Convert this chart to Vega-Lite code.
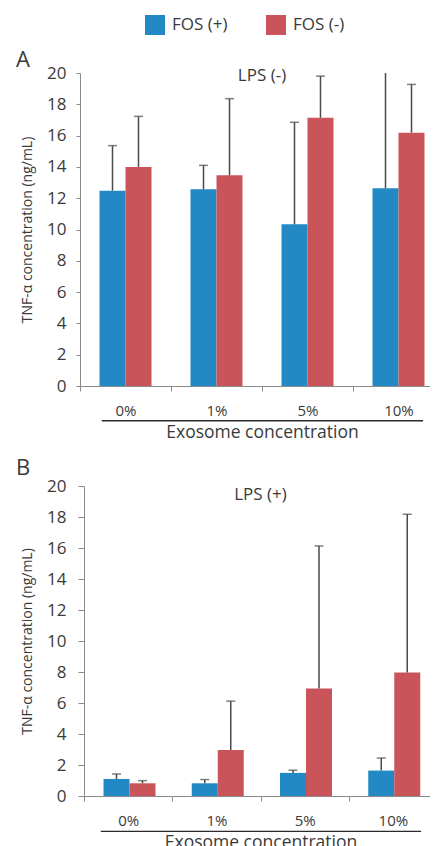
{
  "$schema": "https://vega.github.io/schema/vega-lite/v6.json",
  "padding": {"left": 16, "top": 15, "right": -15, "bottom": -4},
  "config": {
    "font": "Open Sans",
    "view": {"stroke": null},
    "axis": {
      "domainColor": "#8a8a8a",
      "tickColor": "#8a8a8a",
      "labelColor": "#3a3a3a",
      "titleColor": "#3a3a3a",
      "labelFontSize": 15,
      "titleFontWeight": "normal",
      "grid": false
    },
    "axisY": {
      "values": [0, 2, 4, 6, 8, 10, 12, 14, 16, 18, 20],
      "labelOverlap": false,
      "labelFontSize": 17,
      "titleFontSize": 14,
      "titlePadding": 12
    },
    "title": {"color": "#3a3a3a", "fontWeight": "normal", "fontSize": 22}
  },
  "datasets": {
    "bars": [
      {"panel": "A", "conc": "0%", "fos": "FOS (+)", "value": 12.48, "upper": 15.36},
      {"panel": "A", "conc": "0%", "fos": "FOS (-)", "value": 14.0, "upper": 17.23},
      {"panel": "A", "conc": "1%", "fos": "FOS (+)", "value": 12.57, "upper": 14.1},
      {"panel": "A", "conc": "1%", "fos": "FOS (-)", "value": 13.46, "upper": 18.36},
      {"panel": "A", "conc": "5%", "fos": "FOS (+)", "value": 10.33, "upper": 16.85},
      {"panel": "A", "conc": "5%", "fos": "FOS (-)", "value": 17.14, "upper": 19.8},
      {"panel": "A", "conc": "10%", "fos": "FOS (+)", "value": 12.63, "upper": 22.5},
      {"panel": "A", "conc": "10%", "fos": "FOS (-)", "value": 16.19, "upper": 19.27},
      {"panel": "B", "conc": "0%", "fos": "FOS (+)", "value": 1.1, "upper": 1.42},
      {"panel": "B", "conc": "0%", "fos": "FOS (-)", "value": 0.82, "upper": 0.99},
      {"panel": "B", "conc": "1%", "fos": "FOS (+)", "value": 0.82, "upper": 1.06},
      {"panel": "B", "conc": "1%", "fos": "FOS (-)", "value": 2.97, "upper": 6.12},
      {"panel": "B", "conc": "5%", "fos": "FOS (+)", "value": 1.49, "upper": 1.66},
      {"panel": "B", "conc": "5%", "fos": "FOS (-)", "value": 6.94, "upper": 16.13},
      {"panel": "B", "conc": "10%", "fos": "FOS (+)", "value": 1.64, "upper": 2.45},
      {"panel": "B", "conc": "10%", "fos": "FOS (-)", "value": 7.97, "upper": 18.18}
    ],
    "labels": [
      {"panel": "A", "text": "LPS (-)", "conc": "5%", "y": 19.78, "line": -2.22},
      {"panel": "B", "text": "LPS (+)", "conc": "5%", "y": 19.42, "line": -2.28}
    ]
  },
  "spacing": 16,
  "vconcat": [
    {
      "width": 364,
      "height": 313,
      "title": {"text": "A", "anchor": "start", "frame": "group", "dx": -64, "offset": -8},
      "encoding": {
        "y": {"type": "quantitative", "scale": {"domain": [0, 20], "nice": false},
          "axis": {"title": "TNF-α concentration (ng/mL)", "values": [0, 2, 4, 6, 8, 10, 12, 14, 16, 18, 20], "labelOverlap": false, "tickSize": 4, "labelPadding": 10}}
      },
      "layer": [
        {
          "data": {"name": "bars"},
          "transform": [{"filter": "datum.panel == 'A'"}],
          "mark": {"type": "bar"},
          "encoding": {
            "x": {"field": "conc", "type": "nominal",
              "scale": {"domain": ["0%", "1%", "5%", "10%"], "paddingInner": 0, "paddingOuter": 0},
              "axis": {"title": "Exosome concentration", "titleFontSize": 17.5, "labelAngle": 0, "tickBand": "extent", "tickSize": 5, "labelPadding": 19, "labelBaseline": "middle", "titlePadding": 5}},
            "xOffset": {"field": "fos", "type": "nominal", "sort": ["FOS (+)", "FOS (-)"], "scale": {"paddingInner": 0, "paddingOuter": 0.75}},
            "y": {"field": "value"},
            "color": {"field": "fos", "type": "nominal", "scale": {"domain": ["FOS (+)", "FOS (-)"], "range": ["#2389c4", "#c9545a"]},
              "legend": {"title": null, "orient": "none", "direction": "horizontal", "legendX": 65, "legendY": -58, "symbolType": "square", "symbolSize": 400, "symbolStrokeWidth": 0, "labelFontSize": 17, "labelColor": "#3a3a3a", "labelOffset": 7, "columnPadding": 38}}
          }
        },
        {
          "data": {"name": "bars"},
          "transform": [{"filter": "datum.panel == 'A'"}],
          "mark": {"type": "rule", "clip": true, "color": "#4a4a4a", "strokeWidth": 1.5},
          "encoding": {
            "x": {"field": "conc", "type": "nominal"},
            "xOffset": {"field": "fos", "type": "nominal", "sort": ["FOS (+)", "FOS (-)"]},
            "y": {"field": "value"},
            "y2": {"field": "upper"}
          }
        },
        {
          "data": {"name": "bars"},
          "transform": [{"filter": "datum.panel == 'A'"}],
          "mark": {"type": "tick", "clip": true, "color": "#4a4a4a", "thickness": 1.5, "size": 9},
          "encoding": {
            "x": {"field": "conc", "type": "nominal"},
            "xOffset": {"field": "fos", "type": "nominal", "sort": ["FOS (+)", "FOS (-)"]},
            "y": {"field": "upper"}
          }
        },
        {
          "data": {"name": "labels"},
          "transform": [{"filter": "datum.panel == 'A'"}],
          "mark": {"type": "text", "fontSize": 17, "color": "#3a3a3a", "baseline": "middle"},
          "encoding": {
            "x": {"field": "conc", "type": "nominal", "bandPosition": 0},
            "y": {"field": "y"},
            "text": {"field": "text"}
          }
        },
        {
          "data": {"name": "labels"},
          "transform": [{"filter": "datum.panel == 'A'"}],
          "mark": {"type": "rule", "color": "#2a2a2a", "strokeWidth": 1.3},
          "encoding": {
            "x": {"datum": "0%", "bandPosition": 0.24},
            "x2": {"datum": "10%", "bandPosition": 0.77},
            "y": {"field": "line"}
          }
        }
      ]
    },
    {
      "width": 357,
      "height": 310,
      "title": {"text": "B", "anchor": "start", "frame": "group", "dx": -64, "offset": -3},
      "encoding": {
        "y": {"type": "quantitative", "scale": {"domain": [0, 20], "nice": false},
          "axis": {"title": "TNF-α concentration (ng/mL)", "values": [0, 2, 4, 6, 8, 10, 12, 14, 16, 18, 20], "labelOverlap": false, "offset": -4, "tickSize": 6, "labelPadding": 12}}
      },
      "layer": [
        {
          "data": {"name": "bars"},
          "transform": [{"filter": "datum.panel == 'B'"}],
          "mark": {"type": "bar"},
          "encoding": {
            "x": {"field": "conc", "type": "nominal",
              "scale": {"domain": ["0%", "1%", "5%", "10%"], "range": [4, 357], "paddingInner": 0, "paddingOuter": 0},
              "axis": {"title": "Exosome concentration", "titleFontSize": 17.5, "labelAngle": 0, "tickBand": "extent", "tickSize": 5, "labelPadding": 19, "labelBaseline": "middle", "titlePadding": 5}},
            "xOffset": {"field": "fos", "type": "nominal", "sort": ["FOS (+)", "FOS (-)"], "scale": {"paddingInner": 0, "paddingOuter": 0.75}},
            "y": {"field": "value"},
            "color": {"field": "fos", "type": "nominal", "scale": {"domain": ["FOS (+)", "FOS (-)"], "range": ["#2389c4", "#c9545a"]},
              "legend": {"title": null, "orient": "none", "direction": "horizontal", "legendX": 65, "legendY": -58, "symbolType": "square", "symbolSize": 400, "symbolStrokeWidth": 0, "labelFontSize": 17, "labelColor": "#3a3a3a", "labelOffset": 7, "columnPadding": 38}}
          }
        },
        {
          "data": {"name": "bars"},
          "transform": [{"filter": "datum.panel == 'B'"}],
          "mark": {"type": "rule", "clip": true, "color": "#4a4a4a", "strokeWidth": 1.5},
          "encoding": {
            "x": {"field": "conc", "type": "nominal"},
            "xOffset": {"field": "fos", "type": "nominal", "sort": ["FOS (+)", "FOS (-)"]},
            "y": {"field": "value"},
            "y2": {"field": "upper"}
          }
        },
        {
          "data": {"name": "bars"},
          "transform": [{"filter": "datum.panel == 'B'"}],
          "mark": {"type": "tick", "clip": true, "color": "#4a4a4a", "thickness": 1.5, "size": 9},
          "encoding": {
            "x": {"field": "conc", "type": "nominal"},
            "xOffset": {"field": "fos", "type": "nominal", "sort": ["FOS (+)", "FOS (-)"]},
            "y": {"field": "upper"}
          }
        },
        {
          "data": {"name": "labels"},
          "transform": [{"filter": "datum.panel == 'B'"}],
          "mark": {"type": "text", "fontSize": 17, "color": "#3a3a3a", "baseline": "middle"},
          "encoding": {
            "x": {"field": "conc", "type": "nominal", "bandPosition": 0},
            "y": {"field": "y"},
            "text": {"field": "text"}
          }
        },
        {
          "data": {"name": "labels"},
          "transform": [{"filter": "datum.panel == 'B'"}],
          "mark": {"type": "rule", "color": "#2a2a2a", "strokeWidth": 1.3},
          "encoding": {
            "x": {"datum": "0%", "bandPosition": 0.19},
            "x2": {"datum": "10%", "bandPosition": 0.82},
            "y": {"field": "line"}
          }
        }
      ]
    }
  ]
}
